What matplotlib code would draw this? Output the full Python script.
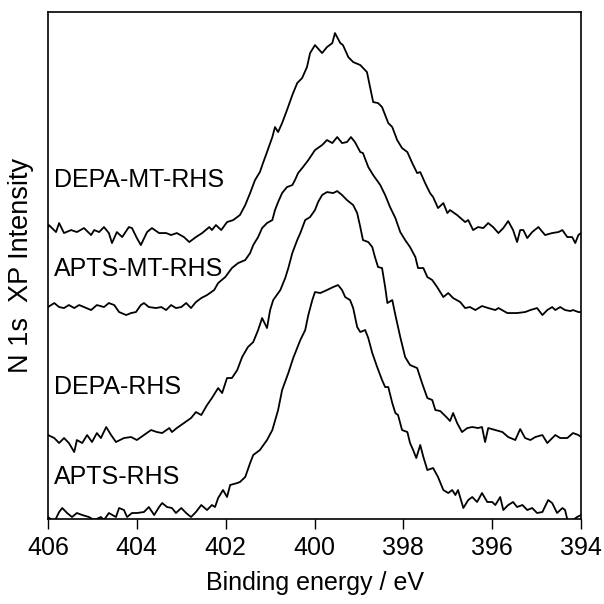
import numpy as np
import matplotlib
matplotlib.use("Agg")
import matplotlib.pyplot as plt

plt.rcParams['font.family'] = ['Liberation Sans', 'DejaVu Sans']

# binding energy (eV) and stacked intensity (a.u.)
depa_mt_E = [406.00, 405.98, 405.82, 405.75, 405.64, 405.48, 405.35, 405.19, 405.03, 404.96,
             404.85, 404.74, 404.63, 404.56, 404.45, 404.33, 404.18, 404.11, 404.00, 403.91,
             403.77, 403.66, 403.50, 403.34, 403.23, 403.10, 402.94, 402.82, 402.67, 402.53,
             402.37, 402.31, 402.22, 402.10, 401.97, 401.83, 401.68, 401.56, 401.45, 401.34,
             401.23, 401.16, 401.07, 400.95, 400.89, 400.82, 400.73, 400.62, 400.50, 400.39,
             400.28, 400.17, 400.10, 399.99, 399.83, 399.72, 399.60, 399.54, 399.42, 399.36,
             399.24, 399.13, 398.97, 398.82, 398.75, 398.68, 398.57, 398.48, 398.34, 398.25,
             398.14, 398.03, 397.91, 397.80, 397.69, 397.62, 397.51, 397.40, 397.33, 397.22,
             397.10, 397.01, 396.95, 396.79, 396.61, 396.54, 396.43, 396.32, 396.20, 396.09,
             395.98, 395.86, 395.75, 395.64, 395.53, 395.44, 395.37, 395.30, 395.21, 395.10,
             394.96, 394.81, 394.65, 394.51, 394.42, 394.31, 394.20, 394.13, 394.06, 394.00]
depa_mt_I = [292, 294, 287, 296, 286, 289, 287, 291, 284, 289,
             287, 292, 286, 276, 287, 282, 292, 291, 281, 274,
             287, 291, 286, 286, 284, 286, 282, 277, 282, 286,
             292, 289, 294, 289, 297, 299, 304, 314, 326, 339,
             347, 356, 367, 382, 392, 387, 396, 409, 424, 436,
             441, 452, 466, 474, 466, 472, 476, 486, 476, 474,
             462, 457, 454, 447, 432, 417, 416, 412, 396, 392,
             379, 371, 367, 356, 346, 347, 336, 326, 322, 311,
             316, 306, 309, 304, 297, 299, 289, 292, 291, 296,
             292, 286, 291, 298, 289, 277, 289, 289, 281, 287,
             292, 284, 286, 287, 289, 282, 282, 276, 284, 286]

apts_mt_E = [406.00, 405.86, 405.75, 405.64, 405.53, 405.41, 405.30, 405.19, 405.03, 404.90,
             404.74, 404.63, 404.51, 404.40, 404.24, 404.13, 404.02, 403.91, 403.84, 403.73,
             403.57, 403.45, 403.34, 403.23, 403.12, 403.00, 402.89, 402.78, 402.67, 402.55,
             402.42, 402.26, 402.17, 402.01, 401.86, 401.72, 401.56, 401.45, 401.38, 401.27,
             401.18, 401.07, 400.95, 400.89, 400.82, 400.73, 400.62, 400.50, 400.44, 400.37,
             400.26, 400.14, 399.99, 399.83, 399.72, 399.60, 399.49, 399.38, 399.27, 399.18,
             399.09, 398.97, 398.91, 398.79, 398.68, 398.52, 398.41, 398.30, 398.18, 398.07,
             397.96, 397.85, 397.73, 397.67, 397.55, 397.46, 397.35, 397.24, 397.10, 396.99,
             396.88, 396.72, 396.61, 396.50, 396.38, 396.23, 396.09, 395.93, 395.86, 395.66,
             395.44, 395.26, 395.14, 394.99, 394.87, 394.76, 394.65, 394.58, 394.47, 394.36,
             394.24, 394.18, 394.06, 394.00]
apts_mt_I = [212, 216, 212, 211, 214, 211, 214, 212, 209, 214,
             212, 216, 214, 207, 204, 206, 207, 214, 216, 212,
             211, 212, 209, 214, 211, 212, 216, 211, 217, 221,
             224, 229, 236, 242, 251, 256, 259, 266, 274, 282,
             291, 296, 299, 309, 317, 326, 332, 334, 339, 346,
             352, 359, 369, 374, 379, 376, 382, 376, 377, 382,
             377, 367, 366, 352, 344, 334, 324, 312, 301, 287,
             279, 272, 262, 251, 251, 242, 239, 232, 222, 226,
             221, 217, 211, 212, 209, 213, 211, 209, 211, 206,
             206, 207, 209, 211, 204, 209, 212, 209, 212, 209,
             208, 209, 207, 207]

depa_E = [406.00, 405.86, 405.75, 405.64, 405.53, 405.41, 405.35, 405.23, 405.12, 405.01,
          404.90, 404.81, 404.69, 404.58, 404.47, 404.29, 404.13, 404.00, 403.84, 403.68,
          403.55, 403.43, 403.27, 403.21, 403.10, 402.94, 402.78, 402.67, 402.55, 402.42,
          402.31, 402.17, 402.08, 401.97, 401.86, 401.74, 401.63, 401.50, 401.38, 401.27,
          401.18, 401.07, 401.00, 400.93, 400.77, 400.66, 400.59, 400.50, 400.39, 400.32,
          400.21, 400.10, 399.99, 399.92, 399.83, 399.72, 399.58, 399.49, 399.38, 399.27,
          399.13, 399.04, 398.97, 398.91, 398.79, 398.70, 398.64, 398.57, 398.48, 398.41,
          398.36, 398.25, 398.18, 398.07, 397.96, 397.85, 397.69, 397.58, 397.46, 397.35,
          397.28, 397.17, 397.01, 396.95, 396.88, 396.79, 396.68, 396.56, 396.45, 396.32,
          396.23, 396.16, 396.09, 395.93, 395.77, 395.64, 395.48, 395.37, 395.26, 395.14,
          395.03, 394.87, 394.76, 394.58, 394.47, 394.31, 394.18, 394.06, 394.00]
depa_I = [84, 81, 76, 81, 76, 67, 79, 76, 84, 77,
          86, 81, 92, 84, 77, 81, 82, 79, 84, 89,
          87, 86, 91, 87, 91, 96, 101, 107, 104, 114,
          121, 131, 126, 141, 141, 149, 162, 172, 177, 189,
          201, 191, 209, 219, 229, 241, 251, 266, 279, 286,
          299, 302, 309, 317, 324, 327, 326, 328, 324, 319,
          314, 306, 292, 279, 277, 272, 262, 252, 251, 232,
          216, 219, 204, 182, 162, 154, 151, 136, 121, 119,
          109, 108, 101, 98, 106, 96, 87, 91, 92, 91,
          92, 77, 91, 89, 87, 82, 79, 90, 81, 79,
          82, 84, 76, 84, 81, 81, 86, 84, 82]

apts_E = [406.00, 405.86, 405.75, 405.68, 405.57, 405.46, 405.35, 405.23, 405.08, 404.96,
          404.81, 404.74, 404.63, 404.47, 404.40, 404.29, 404.22, 404.11, 404.00, 403.84,
          403.73, 403.61, 403.50, 403.43, 403.32, 403.21, 403.12, 403.00, 402.89, 402.78,
          402.67, 402.55, 402.42, 402.31, 402.24, 402.17, 402.06, 401.97, 401.90, 401.74,
          401.68, 401.56, 401.45, 401.38, 401.23, 401.07, 400.95, 400.82, 400.73, 400.59,
          400.48, 400.32, 400.21, 400.14, 400.05, 399.99, 399.87, 399.72, 399.58, 399.47,
          399.38, 399.31, 399.20, 399.13, 399.04, 398.97, 398.86, 398.79, 398.70, 398.59,
          398.48, 398.41, 398.34, 398.25, 398.18, 398.12, 398.03, 397.91, 397.85, 397.78,
          397.71, 397.62, 397.55, 397.46, 397.33, 397.22, 397.10, 396.99, 396.90, 396.83,
          396.77, 396.65, 396.54, 396.45, 396.34, 396.23, 396.11, 396.00, 395.93, 395.82,
          395.75, 395.64, 395.53, 395.44, 395.32, 395.21, 395.10, 394.99, 394.87, 394.74,
          394.65, 394.54, 394.42, 394.36, 394.29, 394.18, 394.09, 394.00]
apts_I = [2, -3, 7, 11, 6, 2, 6, 4, 2, -1,
          2, -1, 6, 2, 11, 9, 2, 6, 6, 7,
          12, 4, 12, 16, 12, 11, 6, 11, 6, 2,
          7, 14, 9, 14, 12, 21, 29, 22, 34, 36,
          37, 42, 56, 64, 69, 79, 89, 109, 129, 146,
          161, 179, 189, 204, 219, 227, 226, 229, 232, 234,
          229, 222, 219, 211, 192, 187, 189, 181, 166, 152,
          139, 132, 132, 116, 106, 104, 89, 87, 76, 69,
          61, 74, 62, 49, 51, 42, 29, 26, 29, 24,
          29, 11, 19, 22, 17, 26, 17, 17, 14, 22,
          9, 14, 17, 12, 14, 9, 11, 6, 7, 19,
          16, 6, 11, 9, -4, -1, 2, 4]

spectra = [(depa_mt_E, depa_mt_I), (apts_mt_E, apts_mt_I), (depa_E, depa_I), (apts_E, apts_I)]
labels = ['DEPA-MT-RHS', 'APTS-MT-RHS', 'DEPA-RHS', 'APTS-RHS']
label_y = [339, 250, 132, 42]
xticks = [406, 404, 402, 400, 398, 396, 394]

fig = plt.figure(figsize=(6.04, 6.04), dpi=100)
ax = fig.add_axes([0.0795, 0.1407, 0.8825, 0.8393])

for (e, inten) in spectra:
    ax.plot(e, inten, color='black', lw=1.3, solid_joinstyle='round')

for lab, y in zip(labels, label_y):
    ax.text(405.86, y, lab, fontsize=18, va='center', ha='left')

ax.set_xlim(406, 394)
ax.set_ylim(0, 507)
ax.set_xticks(xticks)
ax.set_yticks([])
ax.tick_params(axis='x', direction='out', length=7, width=1, labelsize=18, pad=5)
for s in ax.spines.values():
    s.set_linewidth(1.2)
ax.set_xlabel('Binding energy / eV', fontsize=18, labelpad=8)
ax.set_ylabel('N 1s  XP Intensity', fontsize=19.5, labelpad=10)

fig.savefig('out.png', dpi=100)
